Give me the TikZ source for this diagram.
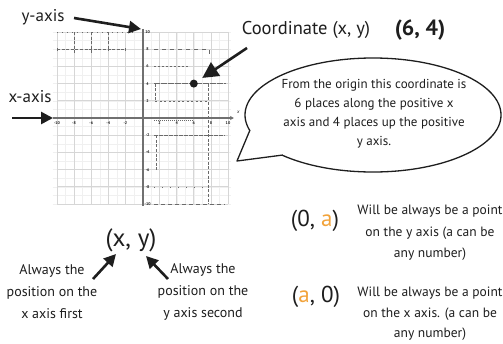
\documentclass[tikz,border=0pt]{standalone}
\usepackage{fontspec}
\setmainfont{PT Sans}
\usetikzlibrary{arrows.meta}
\definecolor{ink}{HTML}{1E1E1E}
\definecolor{aorange}{HTML}{F2A33A}
\definecolor{axisgray}{HTML}{707070}
\definecolor{dashgray}{HTML}{6A6A6A}
\tikzset{
  lbl/.style={text=ink, inner sep=1pt},
  bodytxt/.style={lbl, align=center},
  fatarrow/.style={draw=ink, line width=2.6pt, -{Triangle[length=12pt,width=12pt]}},
  pencil/.style={dashgray, line width=0.55pt, dash pattern=on 3pt off 1.6pt},
  ticklbl/.style={text=ink, inner sep=0pt, font=\fontsize{4}{4}\selectfont\bfseries},
}
\begin{document}
\begin{tikzpicture}[x=1pt, y=-1pt]
\useasboundingbox (0,0) rectangle (503,343);
\fill[white] (0,0) rectangle (503,343);

% ---- coordinate grid (units of the plane) ----
\begin{scope}[xshift=142.5pt, yshift=-118pt, x=8.55pt, y=8.6pt]
  \draw[gray!12, line width=0.4pt] (-10.5,-10) grid[step=1] (10.3,10);
  \draw[gray!32, line width=0.7pt] (-10,-10) grid[step=2] (10,10);
  % pencilled guide lines
  \draw[pencil] (-10,8) -- (-2,8);
  \draw[pencil, dash pattern=on 1pt off 4pt] (-10,10) -- (-1,10);
  \draw[pencil] (-8,10) -- (-8,7.6) (-6,10) -- (-6,7.6) (-4,10) -- (-4,7.8);
  \draw[pencil] (-10,7.8) -- (-10,8.2) (-2,7.8) -- (-2,8.2);
  \draw[pencil, dash pattern=on 4pt off 4pt] (1.4,8) -- (7.8,8) -- (7.8,7.5);
  \draw[pencil, dash pattern=on 2pt off 2pt] (1.4,6) -- (5.5,6);
  \draw[pencil, dash pattern=on 6pt off 1pt] (1.4,4) -- (9.8,4);
  \draw[pencil] (1.5,4) -- (1.5,2);
  \draw[pencil, dash pattern=on 2pt off 2.5pt] (1.5,2) -- (7.8,2);
  \draw[pencil] (7.7,4) -- (7.7,-10);
  \draw[pencil, dash pattern=on 4pt off 1pt] (1.4,-2) -- (9.6,-2);
  \draw[pencil] (1.6,-2) -- (1.6,-6);
  \draw[pencil, dash pattern=on 1pt off 7pt] (1.4,-8) -- (7.8,-8);
  \draw[pencil, dash pattern=on 4pt off 3pt] (1.4,-10) -- (9.6,-10);
  \draw[pencil, dash pattern=on 1pt off 1pt] (1.4,-0.3) -- (6,-0.3);
  % axes
  \draw[axisgray, line width=2pt] (0,10.35) -- (0,-10.2);
  \draw[axisgray, line width=1.7pt, -{Stealth[length=4pt,width=4pt]}] (-10.5,0) -- (10.7,0);
  \node[ticklbl, font=\fontsize{5}{5}\selectfont\itshape] (xname) at (11.2,0.7) {x};
  \foreach \v in {-10,-8,-6,-4,-2,2,4,6,8,10} {
    \node[ticklbl] (xt\v) at (\v,-0.6) {\v};
    \node[ticklbl] (yt\v) at (0.6,\v) {\v};
  }
  \node[circle, fill=ink, inner sep=0pt, minimum size=8pt] (pt) at (6,4) {};
\end{scope}

% ---- axis labels ----
\node[lbl, font=\fontsize{17}{17}\selectfont] (ylbl) at (43,17) {y-axis};
\coordinate (ytail) at (74,18);
\coordinate (ytip) at (141,29);
\draw[fatarrow] (ytail) -- (ytip);

\node[lbl, font=\fontsize{17}{17}\selectfont] (xlbl) at (30,97) {x-axis};
\coordinate (xtail) at (12,118);
\coordinate (xtip) at (53,118);
\draw[fatarrow] (xtail) -- (xtip);

% ---- point annotation ----
\node[lbl, font=\fontsize{18.5}{18.5}\selectfont] (coordlbl) at (306,30) {Coordinate (x, y)};
\node[lbl, font=\fontsize{22}{22}\selectfont\bfseries] (sixfour) at (420,30) {(6, 4)};
\coordinate (ctail) at (247,48);
\draw[fatarrow, -{Triangle[length=16pt,width=16pt]}, shorten >=6pt] (ctail) -- (pt);

% ---- speech bubble ----
\draw[ink, line width=1.3pt, fill=white] (373,115) ellipse [x radius=128pt, y radius=57pt];
\coordinate (tailA) at (250,130);
\coordinate (tailB) at (283,155);
\coordinate (tailtip) at (237,161);
\fill[white] (tailA) -- (tailtip) -- (tailB) -- ([xshift=4pt,yshift=4pt]tailB) -- ([xshift=6pt]tailA) -- cycle;
\draw[ink, line width=1.3pt, line join=round] (tailA) -- (tailtip) -- (tailB);
\node[bodytxt, font=\fontsize{13}{19}\selectfont] (bubtxt) at (374,114)
  {From the origin this coordinate is\\6 places along the positive x\\axis and 4 places up the positive\\y axis.};

% ---- ordered pair ----
\node[lbl, font=\fontsize{25}{25}\selectfont] (xy) at (131,240) {(x, y)};
\node[bodytxt, font=\fontsize{14}{22}\selectfont] (firsttxt) at (52,292) {Always the\\position on the\\x axis first};
\node[bodytxt, font=\fontsize{14}{22}\selectfont] (secondtxt) at (203,292) {Always the\\position on the\\y axis second};
\coordinate (la1) at (93,279);
\coordinate (la2) at (116,254);
\coordinate (ra1) at (168,279);
\coordinate (ra2) at (146,256);
\draw[fatarrow] (la1) -- (la2);
\draw[fatarrow] (ra1) -- (ra2);

% ---- points on the axes ----
\node[lbl, font=\fontsize{23}{23}\selectfont] (zeroa) at (315,221) {(0, \textcolor{aorange}{a})};
\node[bodytxt, font=\fontsize{13.5}{21.5}\selectfont] (yaxisrule) at (430,233) {Will be always be a point\\on the y axis (a can be\\any number)};
\node[lbl, font=\fontsize{23}{23}\selectfont] (azero) at (316,297) {(\textcolor{aorange}{a}, 0)};
\node[bodytxt, font=\fontsize{13.5}{20.5}\selectfont] (xaxisrule) at (430,314) {Will be always be a point\\on the x axis. (a can be\\any number)};
\end{tikzpicture}
\end{document}
